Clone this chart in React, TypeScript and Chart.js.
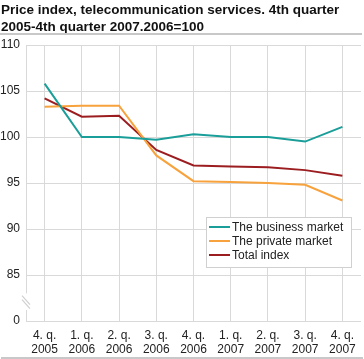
import React, { useEffect, useRef } from "react";
import { Chart, registerables } from "chart.js";

Chart.register(...registerables);

const categories = [
  ["4. q.", "2005"], ["1. q.", "2006"], ["2. q.", "2006"], ["3. q.", "2006"],
  ["4. q.", "2006"], ["1. q.", "2007"], ["2. q.", "2007"], ["3. q.", "2007"], ["4. q.", "2007"],
];
const businessMarket = [105.8, 100.0, 100.0, 99.7, 100.3, 100.0, 100.0, 99.5, 101.1];
const privateMarket = [103.3, 103.4, 103.4, 98.0, 95.2, 95.1, 95.0, 94.8, 93.1];
const totalIndex = [104.2, 102.2, 102.3, 98.6, 96.9, 96.8, 96.7, 96.4, 95.8];
const seriesNames = ["The business market", "The private market", "Total index"];
const seriesColors = ["#1a9e99", "#f7a23c", "#9c1d20"];
const yTicks = [80, 85, 90, 95, 100, 105, 110];
const yTickLabels = ["0", "85", "90", "95", "100", "105", "110"];
const title = ["Price index, telecommunication services. 4th quarter", "2005-4th quarter 2007.2006=100"];

const FONT = "'Liberation Sans', Arial, sans-serif";
const GRID = "#d9d9d9";

const extras = {
  id: "extras",
  afterDraw(chart: any) {
    const ctx = chart.ctx;
    const area = chart.chartArea;
    const y = chart.scales.y;
    ctx.save();
    // left axis line with break gap
    const gapTop = y.getPixelForValue(83.0);
    const gapBot = y.getPixelForValue(81.2);
    ctx.strokeStyle = GRID;
    ctx.lineWidth = 1;
    ctx.beginPath();
    ctx.moveTo(area.left + 0.5, area.top);
    ctx.lineTo(area.left + 0.5, gapTop);
    ctx.moveTo(area.left + 0.5, gapBot);
    ctx.lineTo(area.left + 0.5, area.bottom);
    ctx.stroke();
    // break mark
    const mid = (gapTop + gapBot) / 2;
    ctx.strokeStyle = "#cfcfcf";
    ctx.lineWidth = 1.2;
    ctx.beginPath();
    ctx.moveTo(area.left - 4, mid - 6);
    ctx.lineTo(area.left + 4, mid + 3);
    ctx.moveTo(area.left - 4, mid - 2);
    ctx.lineTo(area.left + 4, mid + 7);
    ctx.stroke();
    // legend
    const lx = area.left + 180, ly = 217, lw = 145, lh = 50;
    ctx.fillStyle = "#ffffff";
    ctx.fillRect(lx, ly, lw, lh);
    ctx.strokeStyle = "#d0d0d0";
    ctx.lineWidth = 1;
    ctx.strokeRect(lx + 0.5, ly + 0.5, lw, lh);
    const rows = [227, 241, 255];
    ctx.font = `12px ${FONT}`;
    ctx.textBaseline = "middle";
    ctx.textAlign = "left";
    seriesNames.forEach((name, i) => {
      ctx.strokeStyle = seriesColors[i];
      ctx.lineWidth = 2;
      ctx.beginPath();
      ctx.moveTo(lx + 3, rows[i]);
      ctx.lineTo(lx + 24, rows[i]);
      ctx.stroke();
      ctx.fillStyle = "#222";
      ctx.fillText(name, lx + 26, rows[i] + 0.5);
    });
    ctx.restore();
  },
};

export default function App() {
  const ref = useRef<HTMLCanvasElement>(null);
  useEffect(() => {
    document.body.style.margin = "0";
    const chart = new Chart(ref.current as HTMLCanvasElement, {
      type: "line",
      data: {
        labels: categories,
        datasets: [businessMarket, privateMarket, totalIndex].map((d, i) => ({
          label: seriesNames[i],
          data: d,
          borderColor: seriesColors[i],
          backgroundColor: seriesColors[i],
          borderWidth: 2,
          pointRadius: 0,
          tension: 0,
        })),
      },
      options: {
        animation: false,
        responsive: false,
        maintainAspectRatio: false,
        layout: { padding: { top: 45, right: 3, left: 0, bottom: 0 } },
        plugins: { legend: { display: false }, tooltip: { enabled: false }, title: { display: false } },
        scales: {
          x: {
            offset: true,
            grid: { color: GRID, drawTicks: false, offset: false },
            border: { display: false },
            ticks: { color: "#222", font: { family: FONT, size: 12, lineHeight: 1.2 }, padding: 7, maxRotation: 0, autoSkip: false },
            afterFit: (s: any) => { s.height = 38; },
          },
          y: {
            min: 80,
            max: 110,
            afterBuildTicks: (s: any) => { s.ticks = yTicks.map((v) => ({ value: v })); },
            grid: { color: GRID, drawTicks: false },
            border: { display: false },
            ticks: {
              color: "#222",
              font: { family: FONT, size: 12 },
              padding: 6,
              callback: (v: any) => yTickLabels[yTicks.indexOf(Number(v))] ?? "",
            },
            afterFit: (s: any) => { s.width = 26; },
          },
        },
      },
      plugins: [extras],
    });
    return () => chart.destroy();
  }, []);
  return (
    <div style={{ position: "relative", width: 364, height: 359, overflow: "hidden", background: "#fff" }}>
      <canvas ref={ref} width={364} height={359} style={{ position: "absolute", left: 0, top: 0 }} />
      <div style={{ position: "absolute", left: 1, top: 1, fontFamily: FONT, fontWeight: "bold", fontSize: 13.5, lineHeight: "17px", color: "#111", whiteSpace: "nowrap" }}>
        {title.map((t, i) => <div key={i}>{t}</div>)}
      </div>
      <div style={{ position: "absolute", left: 0, top: 33, width: 362, height: 2, background: "#c8c8c8" }} />
      <div style={{ position: "absolute", left: 1, top: 357, width: 362, height: 2, background: "#c8c8c8" }} />
    </div>
  );
}
